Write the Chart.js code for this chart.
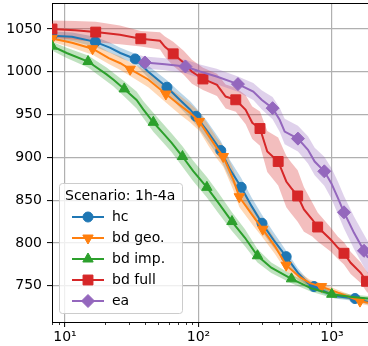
<!DOCTYPE html>
<html><head><meta charset="utf-8">
<script src="https://cdn.jsdelivr.net/npm/chart.js@4.4.1/dist/chart.umd.min.js"></script>
<style>html,body{margin:0;padding:0;background:#fff;overflow:hidden}#wrap{width:368px;height:346px;position:relative}</style>
</head><body><div id="wrap"><canvas id="c" width="368" height="346"></canvas></div>
<script>
// ---- data ----
const legendTitle = 'Scenario: 1h-4a';
const seriesNames = ['hc', 'bd geo.', 'bd imp.', 'bd full', 'ea'];

const hcX = [8, 11.3, 16.9, 21.9, 26, 33.6, 42.1, 58.1, 72.7, 86.4, 95.8, 115, 133, 147, 172, 209, 250, 299, 363, 454, 556, 661, 733, 1048, 1487, 1861];
const hcY = [1042, 1041, 1035, 1028, 1022, 1015, 1000, 982, 967, 956, 948, 932, 918, 908, 886, 865, 843, 823, 804, 784, 765, 753, 749, 738, 735, 731];
const hcErr = [5, 5, 6, 6, 6, 6, 7, 8, 9, 10, 10, 11, 11, 11, 11, 11, 10, 10, 9, 7, 5, 4, 4, 3, 3, 3];
const hcMarks = [0, 2, 5, 7, 10, 13, 15, 17, 19, 22, 24];

const bdgX = [8, 11.3, 16.1, 21.3, 26, 30.8, 42.1, 57, 72.7, 86.4, 101.4, 118.4, 136.9, 153.4, 182.3, 202.1, 257.3, 303.1, 374.1, 453.8, 575.8, 684.2, 834.2, 1148, 1621, 1861];
const bdgY = [1039, 1034, 1027, 1016, 1010, 1003, 991, 974, 961, 952, 942, 926, 911, 901, 874, 854, 831, 816, 796, 774, 760, 753, 749, 741, 732, 730];
const bdgErr = [4, 6, 7, 7, 8, 8, 9, 10, 11, 11, 11, 12, 12, 12, 12, 12, 11, 10, 9, 7, 5, 4, 4, 3, 3, 3];
const bdgMarks = [0, 2, 5, 7, 10, 13, 15, 17, 19, 22, 24];

const bdiX = [8, 10.3, 14.9, 20.5, 23, 27.8, 34.4, 38.6, 45.9, 54.5, 63, 75.9, 91.4, 115.6, 140.7, 178.2, 223, 276.7, 351.1, 497.4, 699.8, 996.6, 1364, 1861];
const bdiY = [1030, 1022, 1012, 997, 991, 980, 967, 956, 941, 928, 917, 901, 884, 865, 847, 825, 806, 785, 771, 758, 747, 740, 737, 735];
const bdiErr = [5, 6, 7, 8, 8, 9, 10, 10, 11, 11, 11, 12, 12, 12, 12, 11, 10, 8, 6, 5, 4, 4, 3, 3];
const bdiMarks = [0, 2, 5, 8, 11, 13, 15, 17, 19, 21];

const bdfX = [8, 11.9, 17, 25.8, 37, 51.5, 56.1, 64.7, 77.9, 89.4, 108.1, 137.6, 159.8, 190.3, 225.7, 252.9, 288.9, 327.6, 395.4, 454.8, 495.6, 553.4, 616.6, 711.9, 781.2, 977.3, 1109, 1230, 1380, 1641, 1813, 1861];
const bdfY = [1050, 1048.5, 1046.4, 1043.2, 1038.6, 1036.2, 1029.2, 1021, 1010.2, 1000, 991.6, 984.8, 971.1, 967.3, 955.6, 940.4, 933.7, 906.9, 895.2, 871.8, 864.1, 854.9, 839.1, 827.4, 818.6, 804, 794.3, 787.9, 776.8, 765.1, 755.2, 753.4];
const bdfErr = [10, 11, 12, 11, 9, 10, 12, 14, 14, 14, 13, 13, 14, 14, 17, 19, 20, 24, 28, 30, 30, 30, 26, 20, 17, 14, 13, 13, 13, 12, 12, 12];
const bdfMarks = [0, 2, 4, 7, 10, 13, 16, 18, 21, 24, 27, 30];

const eaX = [36.5, 39.7, 56.1, 79.9, 102.6, 136.8, 197.6, 257.3, 297.2, 359, 405.5, 442.3, 556, 660.9, 742, 876, 988, 1109, 1230, 1462, 1736, 1861];
const eaY = [1012.3, 1010.9, 1008.8, 1006.2, 1000.4, 994.5, 985.6, 977, 967.3, 957.5, 943.9, 930.2, 921.9, 908.8, 895.1, 883.7, 869.9, 852.4, 835.8, 811.8, 790.8, 782.6];
const eaErr = [7, 7, 7, 8, 8, 9, 9, 10, 11, 13, 14, 15, 15, 16, 16, 17, 18, 19, 19, 19, 19, 19];
const eaMarks = [1, 3, 6, 9, 12, 15, 18, 20];

const xTickValues = [10, 100, 1000];
const xTickLabels = ['10\u00B9', '10\u00B2', '10\u00B3'];
const xMinorTicks = [8, 9, 20, 30, 40, 50, 60, 70, 80, 90, 200, 300, 400, 500, 600, 700, 800, 900];
const yTickValues = [750, 800, 850, 900, 950, 1000, 1050];

// ---- styling ----
const FONT = 'DejaVu Sans';
Chart.defaults.font.family = FONT;
Chart.defaults.font.size = 14;
Chart.defaults.color = '#000';

function rgba(hex, a) {
  const n = parseInt(hex.slice(1), 16);
  return 'rgba(' + (n >> 16) + ',' + ((n >> 8) & 255) + ',' + (n & 255) + ',' + a + ')';
}

const datasets = [];
const legendItems = [];
function addSeries(label, xs, ys, errs, marks, color, style, rot, rad, order, bandOrder) {
  datasets.push({ label: label + ' upper', data: xs.map((x, i) => ({ x, y: ys[i] + errs[i] })),
    borderColor: 'rgba(0,0,0,0)', borderWidth: 0, pointRadius: 0, pointHoverRadius: 0, fill: false, order: bandOrder });
  datasets.push({ label: label + ' lower', data: xs.map((x, i) => ({ x, y: ys[i] - errs[i] })),
    borderColor: 'rgba(0,0,0,0)', borderWidth: 0, pointRadius: 0, pointHoverRadius: 0, fill: '-1',
    backgroundColor: rgba(color, 0.3), order: bandOrder });
  datasets.push({ label, data: xs.map((x, i) => ({ x, y: ys[i] })),
    borderColor: color, backgroundColor: color, borderWidth: 2, fill: false,
    pointStyle: style, pointRotation: rot,
    pointRadius: (c) => marks.includes(c.dataIndex) ? rad : 0, pointHoverRadius: 0,
    pointBackgroundColor: color, pointBorderColor: color, pointBorderWidth: 1, order });
  legendItems.push({ label, color, style, rot, rad });
}
addSeries(seriesNames[0], hcX, hcY, hcErr, hcMarks, '#1f77b4', 'circle', 0, 5, 5, 20);
addSeries(seriesNames[1], bdgX, bdgY, bdgErr, bdgMarks, '#ff7f0e', 'triangle', 180, 6, 4, 19);
addSeries(seriesNames[2], bdiX, bdiY, bdiErr, bdiMarks, '#2ca02c', 'triangle', 0, 6, 3, 18);
addSeries(seriesNames[3], bdfX, bdfY, bdfErr, bdfMarks, '#d62728', 'rect', 0, 7, 2, 17);
addSeries(seriesNames[4], eaX, eaY, eaErr, eaMarks, '#9467bd', 'rectRot', 0, 6.5, 1, 16);

function drawMarker(ctx, it, x, y) {
  ctx.save();
  ctx.fillStyle = it.color; ctx.strokeStyle = it.color; ctx.lineWidth = 1;
  ctx.beginPath();
  const r = it.rad;
  if (it.style === 'circle') { ctx.arc(x, y, r, 0, Math.PI * 2); }
  else if (it.style === 'triangle') {
    let a = it.rot * Math.PI / 180;
    for (let k = 0; k < 3; k++) {
      const px = x + Math.sin(a) * r, py = y - Math.cos(a) * r;
      if (k === 0) ctx.moveTo(px, py); else ctx.lineTo(px, py);
      a += 2 * Math.PI / 3;
    }
    ctx.closePath();
  } else if (it.style === 'rect') {
    const s = Math.SQRT1_2 * r; ctx.rect(x - s, y - s, 2 * s, 2 * s);
  } else {
    ctx.moveTo(x, y - r); ctx.lineTo(x + r, y); ctx.lineTo(x, y + r); ctx.lineTo(x - r, y); ctx.closePath();
  }
  ctx.fill(); ctx.stroke();
  ctx.restore();
}

const framePlugin = {
  id: 'frame',
  afterDatasetsDraw(chart) {
    const ctx = chart.ctx, a = chart.chartArea, xs = chart.scales.x;
    ctx.save();
    // top spine
    ctx.strokeStyle = '#000'; ctx.lineWidth = 1;
    ctx.beginPath(); ctx.moveTo(a.left, a.top + 0.5); ctx.lineTo(a.right, a.top + 0.5); ctx.stroke();
    // minor ticks on log axis
    ctx.lineWidth = 0.8;
    xMinorTicks.forEach(v => {
      const px = Math.round(xs.getPixelForValue(v)) + 0.5;
      ctx.beginPath(); ctx.moveTo(px, a.bottom); ctx.lineTo(px, a.bottom + 3); ctx.stroke();
    });
    // legend box
    const bx = 59.5, by = 183.5, bw = 123, bh = 130, r = 3;
    ctx.beginPath();
    ctx.moveTo(bx + r, by); ctx.lineTo(bx + bw - r, by); ctx.arcTo(bx + bw, by, bx + bw, by + r, r);
    ctx.lineTo(bx + bw, by + bh - r); ctx.arcTo(bx + bw, by + bh, bx + bw - r, by + bh, r);
    ctx.lineTo(bx + r, by + bh); ctx.arcTo(bx, by + bh, bx, by + bh - r, r);
    ctx.lineTo(bx, by + r); ctx.arcTo(bx, by, bx + r, by, r); ctx.closePath();
    ctx.fillStyle = 'rgba(255,255,255,0.8)'; ctx.fill();
    ctx.strokeStyle = '#cccccc'; ctx.lineWidth = 1; ctx.stroke();
    ctx.font = '14px "' + FONT + '"';
    ctx.fillStyle = '#000'; ctx.textBaseline = 'middle'; ctx.textAlign = 'left';
    ctx.fillText(legendTitle, 65, 196);
    legendItems.forEach((it, i) => {
      const y = 217 + i * 21;
      ctx.strokeStyle = it.color; ctx.lineWidth = 2;
      ctx.beginPath(); ctx.moveTo(72, y); ctx.lineTo(104, y); ctx.stroke();
      drawMarker(ctx, it, 88, y);
      ctx.fillStyle = '#000';
      ctx.fillText(it.label, 112, y);
    });
    ctx.restore();
  }
};

new Chart(document.getElementById('c'), {
  type: 'line',
  data: { datasets },
  options: {
    responsive: false, animation: false, events: [],
    layout: { autoPadding: false, padding: { top: 3, right: 0, left: 0, bottom: 0 } },
    plugins: { legend: { display: false }, tooltip: { enabled: false } },
    elements: { line: { tension: 0 } },
    scales: {
      x: {
        type: 'logarithmic', min: 8, max: 1861,
        afterBuildTicks: (s) => {
          s.ticks = xMinorTicks.concat(xTickValues).sort((a, b) => a - b)
            .map(v => ({ value: v, major: xTickValues.includes(v) }));
        },
        afterFit: (s) => { s.height = 24; s.paddingLeft = 0; s.paddingRight = 0; s.paddingTop = 0; s.paddingBottom = 0; },
        ticks: {
          autoSkip: false, maxRotation: 0, minRotation: 0, padding: 2, color: '#000',
          font: { family: FONT, size: 14 },
          callback: (v) => { const i = xTickValues.indexOf(v); return i >= 0 ? xTickLabels[i] : ''; }
        },
        grid: {
          color: (c) => (c.tick && xTickValues.includes(c.tick.value)) ? '#b0b0b0' : 'rgba(0,0,0,0)',
          lineWidth: 1.2, tickLength: 5,
          tickColor: (c) => (c.tick && xTickValues.includes(c.tick.value)) ? '#000' : 'rgba(0,0,0,0)',
          tickWidth: 1
        },
        border: { color: '#000', width: 1 }
      },
      y: {
        type: 'linear', min: 707.6, max: 1080.4,
        afterBuildTicks: (s) => { s.ticks = yTickValues.map(v => ({ value: v })); },
        afterFit: (s) => { s.width = 52; s.paddingTop = 0; s.paddingBottom = 0; s.paddingLeft = 0; s.paddingRight = 0; },
        ticks: { padding: 5, color: '#000', font: { family: FONT, size: 14 }, callback: (v) => String(v) },
        grid: { color: '#b0b0b0', lineWidth: 1.2, tickLength: 5, tickColor: '#000', tickWidth: 1 },
        border: { color: '#000', width: 1 }
      }
    }
  },
  plugins: [framePlugin]
});
</script></body></html>
